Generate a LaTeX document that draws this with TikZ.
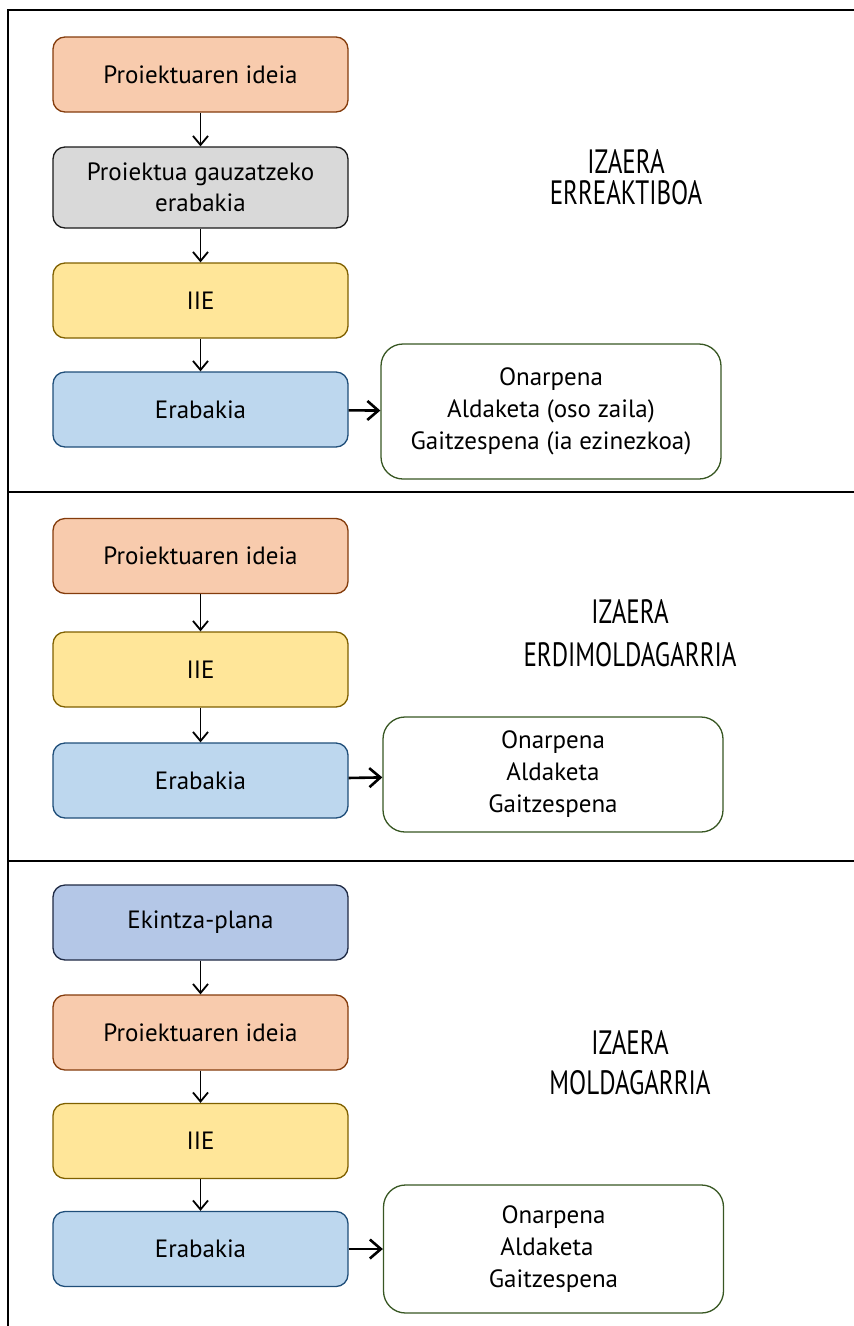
\documentclass[tikz,border=0pt]{standalone}
\usepackage{fontspec}
\setmainfont{PT Sans}
\usetikzlibrary{arrows.meta}

\definecolor{ideaFill}{HTML}{F8CBAD}
\definecolor{ideaLine}{HTML}{843C0C}
\definecolor{grayFill}{HTML}{D9D9D9}
\definecolor{grayLine}{HTML}{1A1A1A}
\definecolor{iieFill}{HTML}{FFE699}
\definecolor{iieLine}{HTML}{7F6000}
\definecolor{decFill}{HTML}{BDD7EE}
\definecolor{decLine}{HTML}{1F4E79}
\definecolor{planFill}{HTML}{B4C7E7}
\definecolor{planLine}{HTML}{1F2A44}
\definecolor{resLine}{HTML}{385723}

% tall, narrow caps for the procedure-type labels
\newcommand{\tallword}[1]{\scalebox{1}[1.35]{#1}}

\tikzset{
  x=1pt, y=-1pt,
  stagebox/.style={draw, rounded corners=12pt, line width=1.3pt,
    minimum width=295pt, minimum height=75pt, align=center,
    font=\fontsize{25}{31}\selectfont, inner sep=2pt},
  idea/.style={stagebox, fill=ideaFill, draw=ideaLine},
  resolve/.style={stagebox, fill=grayFill, draw=grayLine, minimum height=81pt},
  iie/.style={stagebox, fill=iieFill, draw=iieLine},
  decide/.style={stagebox, fill=decFill, draw=decLine},
  plan/.style={stagebox, fill=planFill, draw=planLine},
  outcome/.style={draw=resLine, rounded corners=22pt, line width=1.3pt,
    fill=white, minimum width=340pt, align=center,
    font=\fontsize{25}{32}\selectfont},
  nature/.style={align=center, font=\fontsize{25}{40}\selectfont},
  flow/.style={-{Straight Barb[length=9pt,width=15pt]}, line width=1.8pt},
  sideflow/.style={-{Straight Barb[length=11pt,width=19pt]}, line width=2.6pt},
  frame/.style={line width=2pt}
}

\begin{document}
\begin{tikzpicture}
\useasboundingbox (0,0) rectangle (854,1326);

% frame and section dividers
\coordinate (fTL) at (8,10);
\coordinate (fTR) at (854,10);
\coordinate (fBL) at (8,1326);
\coordinate (d1L) at (8,492);
\coordinate (d1R) at (854,492);
\coordinate (d2L) at (8,861);
\coordinate (d2R) at (854,861);
\draw[frame] (fBL) -- (fTL) -- (fTR);
\draw[frame] (d1L) -- (d1R);
\draw[frame] (d2L) -- (d2R);

% reactive procedure
\node[idea]    (p1) at (200.5,74.5)  {Proiektuaren ideia};
\node[resolve] (g1) at (200.5,187.5) {Proiektua gauzatzeko\\erabakia};
\node[iie]     (i1) at (200.5,300.5) {IIE};
\node[decide]  (e1) at (200.5,409.5) {Erabakia};
\node[outcome, minimum height=135pt] (r1) at (551,411.5)
  {Onarpena\\Aldaketa (oso zaila)\\Gaitzespena (ia ezinezkoa)};
\node[nature] (n1) at (626,177) {\tallword{IZAERA}\\[-9pt]\tallword{ERREAKTIBOA}};
\draw[flow] (p1) -- (g1);
\draw[flow] (g1) -- (i1);
\draw[flow] (i1) -- (e1);
\draw[sideflow] (e1) -- (r1);

% semi-adaptive procedure
\node[idea]   (p2) at (200.5,556)   {Proiektuaren ideia};
\node[iie]    (i2) at (200.5,669.5) {IIE};
\node[decide] (e2) at (200.5,780.5) {Erabakia};
\node[outcome, minimum height=115pt] (r2) at (553,774.5)
  {Onarpena\\Aldaketa\\Gaitzespena};
\node[nature] (n2) at (630,633.5) {\tallword{IZAERA}\\[3pt]\tallword{ERDIMOLDAGARRIA}};
\draw[flow] (p2) -- (i2);
\draw[flow] (i2) -- (e2);
\draw[sideflow] (e2) -- (r2);

% adaptive procedure
\node[plan]   (k3) at (200.5,922.5)  {Ekintza-plana};
\node[idea]   (p3) at (200.5,1032.5) {Proiektuaren ideia};
\node[iie]    (i3) at (200.5,1141)   {IIE};
\node[decide] (e3) at (200.5,1249)   {Erabakia};
\node[outcome, minimum height=128pt] (r3) at (553.5,1249)
  {Onarpena\\Aldaketa\kern13pt\null\\Gaitzespena};
\node[nature] (n3) at (630,1063) {\tallword{IZAERA}\\[0pt]\tallword{MOLDAGARRIA}};
\draw[flow] (k3) -- (p3);
\draw[flow] (p3) -- (i3);
\draw[flow] (i3) -- (e3);
\draw[sideflow] (e3) -- (r3);
\end{tikzpicture}
\end{document}
